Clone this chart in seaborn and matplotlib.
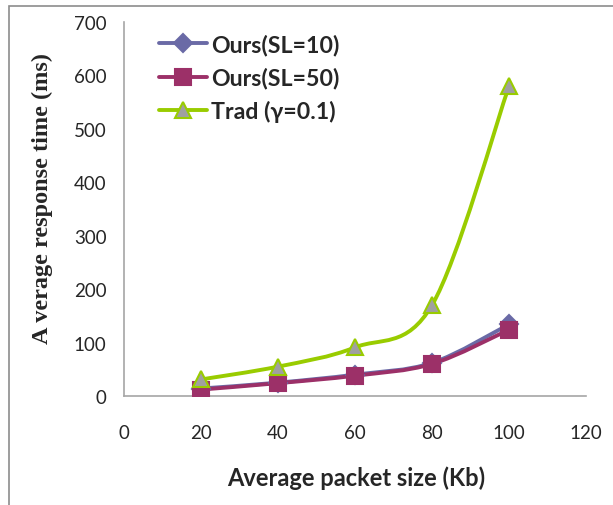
import numpy as np
import pandas as pd
import seaborn as sns
import matplotlib
matplotlib.use("Agg")
import matplotlib.pyplot as plt
from matplotlib.path import Path
from matplotlib.patches import PathPatch, Rectangle
from matplotlib.lines import Line2D

# ---- data ----
packet_size = [20, 40, 60, 80, 100]
ours_sl10 = [14, 25, 40, 62, 134]
ours_sl50 = [12, 24, 38, 60, 124]
trad = [31, 55, 91, 170, 580]
series_names = ["Ours(SL=10)", "Ours(SL=50)", "Trad (\u03b3=0.1)"]
x_ticks = [0, 20, 40, 60, 80, 100, 120]
y_ticks = [0, 100, 200, 300, 400, 500, 600, 700]

df = pd.DataFrame({
    "x": packet_size * 3,
    "y": ours_sl10 + ours_sl50 + trad,
    "series": [series_names[0]] * 5 + [series_names[1]] * 5 + [series_names[2]] * 5,
})

sns.set_theme(style="white")
plt.rcParams["font.family"] = ["Lato", "DejaVu Sans"]

fig = plt.figure(figsize=(6.13, 5.06), dpi=100)
ax = fig.add_axes([124 / 613, 1 - 397 / 506, (586 - 124) / 613, (397 - 23) / 506])

line_colors = ["#6a6aa6", "#9c3068", "#99cc00"]
marker_face = ["#6a6aa6", "#9c3068", "#a0a0a0"]
marker_edge = ["#6a6aa6", "#9c3068", "#99cc00"]
markers = ["D", "s", "^"]
msizes = [9, 11, 12]


def smooth_path(xs, ys, tension=1 / 6):
    xs = np.asarray(xs, float)
    ys = np.asarray(ys, float)
    pts = np.column_stack([xs, ys])
    verts = [pts[0]]
    codes = [Path.MOVETO]
    n = len(pts)
    for i in range(n - 1):
        p0 = pts[i - 1] if i > 0 else pts[i]
        p1 = pts[i]
        p2 = pts[i + 1]
        p3 = pts[i + 2] if i + 2 < n else pts[i + 1]
        c1 = p1 + (p2 - p0) * tension
        c2 = p2 - (p3 - p1) * tension
        verts += [c1, c2, p2]
        codes += [Path.CURVE4] * 3
    return Path(verts, codes)


for i, name in enumerate(series_names):
    sub = df[df["series"] == name]
    path = smooth_path(sub["x"], sub["y"])
    ax.add_patch(PathPatch(path, facecolor="none", edgecolor=line_colors[i], lw=2.8, zorder=2))
    sns.lineplot(data=sub, x="x", y="y", ax=ax, linestyle="none", marker=markers[i],
                 markersize=msizes[i], markerfacecolor=marker_face[i],
                 markeredgecolor=marker_edge[i], markeredgewidth=1.5,
                 color=line_colors[i], legend=False, zorder=3)

ax.set_xlim(0, 120)
ax.set_ylim(0, 700)
ax.set_xticks(x_ticks)
ax.set_yticks(y_ticks)
ax.set_xticklabels([str(t) for t in x_ticks], fontsize=13.5)
ax.set_yticklabels([str(t) for t in y_ticks], fontsize=13.5)
ax.tick_params(axis="x", pad=20, length=0)
ax.tick_params(axis="y", pad=12.5, length=0)
for side in ["top", "right"]:
    ax.spines[side].set_visible(False)
for side in ["left", "bottom"]:
    ax.spines[side].set_color("#a6a6a6")
    ax.spines[side].set_linewidth(1.2)
ax.grid(False)

ax.set_xlabel("Average packet size (Kb)", fontsize=17, fontweight="bold")
ax.xaxis.label.set_va("center")
ax.xaxis.set_label_coords(0.503, -0.218)
ax.set_ylabel("A verage response time (ms)", fontsize=17.5, fontweight="bold",
              family=["Liberation Serif", "DejaVu Serif"])
ax.yaxis.label.set_va("center")
ax.yaxis.set_label_coords(-0.177, 0.532)

handles = [Line2D([0], [0], color=line_colors[i], lw=2.8, marker=markers[i],
                  markersize=msizes[i], markerfacecolor=marker_face[i],
                  markeredgecolor=marker_edge[i], markeredgewidth=1.5)
           for i in range(3)]
leg = ax.legend(handles, series_names, loc="upper left", bbox_to_anchor=(0.05, 1.0),
                frameon=False, prop={"weight": "bold", "size": 16.7},
                handlelength=2.1, handletextpad=0.15, labelspacing=0.5, borderaxespad=0.1)

fig.patches.append(Rectangle((9 / 613, -0.1), 1.2, 1 - 7 / 506 + 0.1, transform=fig.transFigure,
                             fill=False, edgecolor="#8c8c8c", lw=1.2))

fig.savefig("out.png", dpi=100)
